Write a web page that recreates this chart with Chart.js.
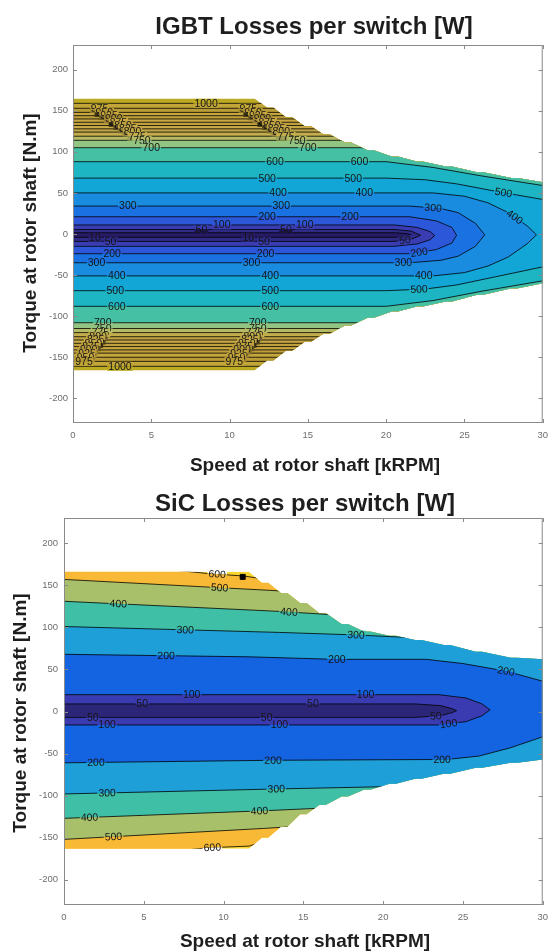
<!DOCTYPE html>
<html lang="en">
<head>
<meta charset="UTF-8">
<title>IGBT vs SiC losses per switch</title>
<style>
  html, body { margin: 0; padding: 0; background: #fff; }
  body { width: 555px; height: 951px; position: relative; overflow: hidden; }
  canvas { position: absolute; left: 0; }
  #igbt { top: 0; }
  #sic { top: 476px; }
</style>
</head>
<body>
<canvas id="igbt" width="555" height="476"></canvas>
<canvas id="sic" width="555" height="475"></canvas>
<script src="https://cdn.jsdelivr.net/npm/chart.js"></script>
<script>
const FONT = '"Liberation Sans", Arial, sans-serif';

const speedTicks = [0, 5, 10, 15, 20, 25, 30];
const torqueTicks = [-200, -150, -100, -50, 0, 50, 100, 150, 200];

// ---- IGBT: operating envelope (stepped torque limit vs speed) ----
const igbtEnvSpeed  = [0, 11.6, 12.4, 12.8, 13.6, 14.0, 14.8, 15.2, 16.0, 16.4, 17.4, 17.8, 18.8, 19.2, 20.4, 20.8, 22.0, 22.4, 23.8, 24.2, 25.8, 26.2, 28.0, 28.4, 30];
const igbtEnvTop    = [165, 165, 154, 154, 142, 142, 131, 131, 121, 121, 111, 111, 102, 102, 94, 94, 88, 88, 82, 82, 75, 75, 68, 68, 63];
const igbtEnvBottom = [-166, -166, -154, -154, -142, -142, -131, -131, -121, -121, -111, -111, -102, -102, -94, -94, -88, -88, -82, -82, -74, -74, -66, -66, -60];

// contour levels [W] and their branches as [speed, torque] points
const igbtLevels = [10, 50, 100, 200, 300, 400, 500, 600, 700, 750, 775, 800, 825, 850, 875, 900, 925, 950, 975, 1000];
const igbtUpper = [
  [[0, 1.5], [20.6, 1.5], [21.3, 0.5], [21.6, -1]],
  [[0, 5.5], [20.5, 5.5], [21.6, 3.5], [22.2, -1.5]],
  [[0, 11], [20.5, 11], [22, 8], [22.8, 3], [23.1, -2]],
  [[0, 21], [21.5, 21], [23.2, 16], [24.2, 8], [24.5, -1.5]],
  [[0, 34], [21.5, 34], [23.5, 31], [24.6, 26], [25.7, 13], [26.3, -1]],
  [[0, 50], [23, 50], [25, 46], [26.5, 38], [27.8, 26], [29, 10], [29.6, -1]],
  [[0, 68], [20, 68], [22.5, 66], [24.5, 61], [27, 52], [30, 42]],
  [[0, 88], [20, 88], [23, 81], [26, 71], [30, 59]],
  [[0, 105], [30, 105]],
  [[0, 114], [30, 114]],
  [[0, 119], [30, 119]],
  [[0, 124], [30, 124]],
  [[0, 128], [30, 128]],
  [[0, 132], [30, 132]],
  [[0, 136], [30, 136]],
  [[0, 140], [30, 140]],
  [[0, 144], [30, 144]],
  [[0, 148], [30, 148]],
  [[0, 153], [30, 153]],
  [[0, 159], [30, 159]]
];
const igbtLower = [
  [[0, -4], [20.6, -4], [21.3, -2.5], [21.6, -1]],
  [[0, -9], [20.5, -9], [21.6, -6.5], [22.2, -1.5]],
  [[0, -15], [20.5, -15], [22, -12], [22.8, -7], [23.1, -2]],
  [[0, -24], [21.5, -24], [23.2, -19], [24.2, -11], [24.5, -1.5]],
  [[0, -35], [21.5, -35], [23.5, -32], [24.6, -27], [25.7, -15], [26.3, -1]],
  [[0, -51], [23, -51], [25, -47], [26.5, -39], [27.8, -28], [29, -12], [29.6, -1]],
  [[0, -69], [20, -69], [22.5, -67], [24.5, -62], [27, -52], [30, -40]],
  [[0, -88], [20, -88], [23, -81], [26, -70], [30, -57]],
  [[0, -108], [30, -108]],
  [[0, -115], [30, -115]],
  [[0, -120], [30, -120]],
  [[0, -125], [30, -125]],
  [[0, -129], [30, -129]],
  [[0, -133], [30, -133]],
  [[0, -137], [30, -137]],
  [[0, -141], [30, -141]],
  [[0, -145], [30, -145]],
  [[0, -150], [30, -150]],
  [[0, -155], [30, -155]],
  [[0, -161], [30, -161]]
];
// band colours, lowest band first
const igbtColors = ['#271b66', '#2f2a86', '#3a3db2', '#2c57d8', '#1a72e2', '#1a8ce0', '#12a6d6', '#1db4c4',
  '#45c0a4', '#92c482', '#b5bb64', '#c4ae4c', '#bea444', '#c8aa46', '#bfa03e', '#c9a842', '#bd9e3a',
  '#c6a63e', '#ba9c36', '#c2a638', '#bcaa24'];
// contour labels: [level index, branch, speed]
const igbtLabels = [
  [19, 'u', 8.5],
  [18, 'u', 1.7], [17, 'u', 2.0], [16, 'u', 2.3], [15, 'u', 2.6], [14, 'u', 2.9], [13, 'u', 3.2],
  [12, 'u', 3.5], [11, 'u', 3.8], [10, 'u', 4.1], [9, 'u', 4.4], [8, 'u', 5.0],
  [18, 'u', 11.2], [17, 'u', 11.5], [16, 'u', 11.8], [15, 'u', 12.1], [14, 'u', 12.4], [13, 'u', 12.7],
  [12, 'u', 13.0], [11, 'u', 13.3], [10, 'u', 13.6], [9, 'u', 14.3], [8, 'u', 15.0],
  [7, 'u', 12.9], [7, 'u', 18.3], [6, 'u', 12.4], [6, 'u', 17.9], [6, 'u', 27.5],
  [5, 'u', 13.1], [5, 'u', 18.6], [5, 'u', 28.2], [4, 'u', 3.5], [4, 'u', 13.3], [4, 'u', 23.0],
  [3, 'u', 12.4], [3, 'u', 17.7], [2, 'u', 9.5], [2, 'u', 14.8], [1, 'u', 8.2], [1, 'u', 13.6],
  [0, 'l', 1.4], [1, 'l', 2.4], [0, 'l', 11.2], [1, 'l', 12.2], [1, 'l', 21.2],
  [3, 'l', 2.5], [3, 'l', 12.3], [3, 'l', 22.1], [4, 'l', 1.5], [4, 'l', 11.4], [4, 'l', 21.1],
  [5, 'l', 2.8], [5, 'l', 12.6], [5, 'l', 22.4], [6, 'l', 2.7], [6, 'l', 12.6], [6, 'l', 22.1],
  [7, 'l', 2.8], [7, 'l', 12.6], [8, 'l', 1.9], [8, 'l', 11.8],
  [9, 'l', 1.9], [10, 'l', 1.75], [11, 'l', 1.6], [12, 'l', 1.45], [13, 'l', 1.3], [14, 'l', 1.15],
  [15, 'l', 1.0], [16, 'l', 0.9], [17, 'l', 0.8], [18, 'l', 0.7],
  [9, 'l', 11.8], [10, 'l', 11.6], [11, 'l', 11.45], [12, 'l', 11.3], [13, 'l', 11.1], [14, 'l', 10.95],
  [15, 'l', 10.8], [16, 'l', 10.6], [17, 'l', 10.45], [18, 'l', 10.3],
  [19, 'l', 3.0]
];

// ---- SiC ----
const sicEnvSpeed  = [0, 11.6, 12.4, 12.8, 13.6, 14.0, 14.8, 15.2, 16.0, 16.4, 17.4, 17.8, 18.8, 19.2, 20.4, 20.8, 22.0, 22.4, 23.8, 24.2, 25.8, 26.2, 28.0, 28.4, 30];
const sicEnvTop    = [166, 166, 153, 153, 141, 141, 129, 129, 117, 117, 104, 104, 95, 95, 90, 90, 85, 85, 79, 79, 71, 71, 64, 64, 62];
const sicEnvBottom = [-163, -163, -150, -150, -137, -137, -122, -122, -111, -111, -101, -101, -93, -93, -86, -86, -80, -80, -74, -74, -67, -67, -61, -61, -57];
const sicLevels = [50, 100, 200, 300, 400, 500, 600];
const sicUpper = [
  [[0, 9], [22, 9], [23.6, 7], [24.3, 3.5], [24.6, 1]],
  [[0, 20], [23.5, 20], [25.2, 16], [26.2, 9], [26.7, 2]],
  [[0, 68], [11.6, 65], [17, 62], [22.7, 62], [25, 57], [27.7, 48], [30, 36]],
  [[0, 101], [13.5, 94], [18.3, 91], [21, 88.5], [30, 84]],
  [[0, 131], [13.5, 119], [16, 116], [30, 100]],
  [[0, 157], [12.9, 144], [30, 125]],
  [[0, 178], [7.5, 167], [9, 164], [11.3, 161], [13, 156], [30, 140]]
];
const sicLower = [
  [[0, -7], [22, -7], [23.6, -5], [24.3, -1.5], [24.6, 1]],
  [[0, -16], [23.5, -16], [25.2, -12], [26.2, -5], [26.7, 2]],
  [[0, -61], [13, -58], [24, -57], [26, -53], [28, -43], [30, -30]],
  [[0, -98], [13.5, -92], [21, -89], [30, -85]],
  [[0, -127], [12.5, -118], [16, -115], [30, -100]],
  [[0, -152], [12.5, -139], [30, -118]],
  [[0, -178], [7.5, -165], [9, -162], [11.6, -160], [13, -152], [30, -135]]
];
const sicColors = ['#2c2678', '#3a3bb0', '#1463e0', '#1f9fd8', '#3ebfa6', '#a8c06a', '#f7b936', '#f9d62e'];
const sicLabels = [
  [6, 'u', 9.6], [6, 'l', 9.3], [5, 'u', 9.75], [5, 'l', 3.1],
  [4, 'u', 3.4], [4, 'u', 14.1], [4, 'l', 1.6], [4, 'l', 12.25],
  [3, 'u', 7.6], [3, 'u', 18.3], [3, 'l', 2.7], [3, 'l', 13.3],
  [2, 'u', 6.4], [2, 'u', 17.1], [2, 'u', 27.7], [2, 'l', 2.0], [2, 'l', 13.1], [2, 'l', 23.7],
  [1, 'u', 8.0], [1, 'u', 18.9], [1, 'l', 2.7], [1, 'l', 13.5], [1, 'l', 24.1],
  [0, 'u', 4.9], [0, 'u', 15.6], [0, 'l', 1.8], [0, 'l', 12.7], [0, 'l', 23.3]
];
const sicMarker = [[11.2, 160]];

// ---------------------------------------------------------------
function pts(pairs) { return pairs.map(p => ({ x: p[0], y: p[1] })); }

function envelopeOf(speed, top, bottom) {
  const up = speed.map((s, i) => [s, top[i]]);
  const down = speed.map((s, i) => [s, bottom[i]]).reverse();
  return up.concat(down);
}

function buildDatasets(envelope, upper, lower, colors, marker) {
  const sets = [];
  if (marker) {
    sets.push({ data: pts(marker), showLine: false, pointStyle: 'rect', pointRadius: 3.5,
      pointBackgroundColor: '#000', pointBorderColor: '#000', borderColor: '#000' });
  }
  upper.concat(lower).forEach(branch => {
    sets.push({ data: pts(branch), borderColor: 'rgba(0,0,0,0.88)', borderWidth: 0.9,
      pointRadius: 0, fill: false, tension: 0 });
  });
  // filled regions, innermost on top
  upper.forEach((branch, i) => {
    sets.push({ data: pts(branch.concat(lower[i].slice().reverse())), fill: 'shape',
      backgroundColor: colors[i], borderColor: 'rgba(0,0,0,0)', borderWidth: 0, pointRadius: 0 });
  });
  sets.push({ data: pts(envelope), fill: 'shape', backgroundColor: colors[upper.length],
    borderColor: 'rgba(0,0,0,0)', borderWidth: 0, pointRadius: 0 });
  return sets;
}

function drawFrame(chart) {
  const { ctx, chartArea: a, scales: { x, y } } = chart;
  ctx.save();
  ctx.strokeStyle = '#8a8a8a';
  ctx.lineWidth = 1;
  ctx.strokeRect(a.left + 0.5, a.top + 0.5, a.right - a.left - 1, a.bottom - a.top - 1);
  ctx.beginPath();
  speedTicks.forEach(v => {
    const px = Math.round(x.getPixelForValue(v)) + 0.5;
    ctx.moveTo(px, a.bottom); ctx.lineTo(px, a.bottom - 4);
    ctx.moveTo(px, a.top); ctx.lineTo(px, a.top + 4);
  });
  torqueTicks.forEach(v => {
    const py = Math.round(y.getPixelForValue(v)) + 0.5;
    ctx.moveTo(a.left, py); ctx.lineTo(a.left + 4, py);
    ctx.moveTo(a.right, py); ctx.lineTo(a.right - 4, py);
  });
  ctx.stroke();
  ctx.restore();
}

function drawLabels(chart, labels, upper, lower, levels) {
  const { ctx, chartArea: a, scales: { x, y } } = chart;
  ctx.save();
  ctx.font = '10.5px ' + FONT;
  const items = labels.map(([idx, br, s]) => {
    const branch = br === 'u' ? upper[idx] : lower[idx];
    let k = 0;
    while (k < branch.length - 2 && s > branch[k + 1][0]) k++;
    const [s0, t0] = branch[k], [s1, t1] = branch[k + 1];
    const f = s1 === s0 ? 0 : (s - s0) / (s1 - s0);
    const t = t0 + f * (t1 - t0);
    const cx = x.getPixelForValue(s), cy = y.getPixelForValue(t);
    let ang = Math.atan2(y.getPixelForValue(t1) - y.getPixelForValue(t0),
                         x.getPixelForValue(s1) - x.getPixelForValue(s0));
    if (ang > Math.PI / 2) ang -= Math.PI;
    if (ang < -Math.PI / 2) ang += Math.PI;
    const text = String(levels[idx]);
    const w = ctx.measureText(text).width;
    const c = Math.cos(ang), sn = Math.sin(ang);
    let side = -w / 2 - 3;
    if (cx + side * c < a.left + 2) side = w / 2 + 3;
    // band colour just above / below the line, skipping black contour pixels;
    // transparent pixels lie outside the envelope, where the page is white
    const pick = dir => {
      let last = '#ffffff';
      for (const off of [2.5, 3.5, 1.5, 4.5, 5.5]) {
        const oy = dir * off;
        const px = Math.round(cx + side * c - oy * sn), py = Math.round(cy + side * sn + oy * c);
        const d = ctx.getImageData(px, py, 1, 1).data;
        if (d[3] < 128) return '#ffffff';
        last = 'rgb(' + d[0] + ',' + d[1] + ',' + d[2] + ')';
        if (d[0] + d[1] + d[2] > 90) return last;
      }
      return last;
    };
    return { cx, cy, ang, text, w, top: pick(-1), bot: pick(1) };
  });
  items.forEach(it => {
    ctx.save();
    ctx.translate(it.cx, it.cy);
    ctx.rotate(it.ang);
    ctx.fillStyle = it.top;
    ctx.fillRect(-it.w / 2 - 1, -4.5, it.w + 2, 4.5);
    ctx.fillStyle = it.bot;
    ctx.fillRect(-it.w / 2 - 1, 0, it.w + 2, 4.5);
    ctx.fillStyle = '#151515';
    ctx.textAlign = 'center';
    ctx.textBaseline = 'middle';
    ctx.fillText(it.text, 0, 0.5);
    ctx.restore();
  });
  ctx.restore();
}

function contourPlugin(envelope, upper, lower, levels, labels, titles) {
  return {
    id: 'contour',
    beforeDatasetsDraw(chart) {
      const { ctx, scales: { x, y } } = chart;
      ctx.save();
      ctx.beginPath();
      envelope.forEach((p, i) => {
        const px = x.getPixelForValue(p[0]), py = y.getPixelForValue(p[1]);
        if (i) ctx.lineTo(px, py); else ctx.moveTo(px, py);
      });
      ctx.closePath();
      ctx.clip();
    },
    afterDatasetsDraw(chart) {
      chart.ctx.restore();
    },
    afterDraw(chart) {
      const ctx = chart.ctx;
      drawFrame(chart);
      drawLabels(chart, labels, upper, lower, levels);
      ctx.save();
      ctx.fillStyle = '#1e1e1e';
      ctx.textAlign = 'center';
      ctx.textBaseline = 'alphabetic';
      ctx.font = 'bold 24px ' + FONT;
      ctx.fillText(titles.title, titles.titleX, titles.titleY);
      ctx.font = 'bold 19px ' + FONT;
      ctx.fillText('Speed at rotor shaft [kRPM]', titles.xTitleX, titles.xTitleY);
      ctx.translate(titles.yTitleX, titles.yTitleY);
      ctx.rotate(-Math.PI / 2);
      ctx.textBaseline = 'middle';
      ctx.fillText('Torque at rotor shaft [N.m]', 0, 0);
      ctx.restore();
    }
  };
}

function makeChart(id, datasets, plugin, box) {
  const tickFont = { size: 9.5, family: FONT };
  return new Chart(document.getElementById(id), {
    type: 'line',
    data: { datasets },
    options: {
      responsive: false,
      animation: false,
      devicePixelRatio: 1,
      events: [],
      layout: { padding: { top: box.top, right: box.right, left: 0, bottom: 0 } },
      plugins: { legend: { display: false }, tooltip: { enabled: false }, title: { display: false } },
      scales: {
        x: {
          type: 'linear', min: 0, max: 30,
          grid: { display: false, drawTicks: false }, border: { display: false },
          ticks: { autoSkip: false, maxRotation: 0, padding: 7, color: '#6e6e6e', font: tickFont },
          afterBuildTicks: s => { s.ticks = speedTicks.map(v => ({ value: v })); },
          afterFit: s => { s.height = box.xHeight; }
        },
        y: {
          type: 'linear', min: -230, max: 230,
          grid: { display: false, drawTicks: false }, border: { display: false },
          ticks: { autoSkip: false, padding: box.yPad, color: '#6e6e6e', font: tickFont },
          afterBuildTicks: s => { s.ticks = torqueTicks.map(v => ({ value: v })); },
          afterFit: s => { s.width = box.yWidth; }
        }
      }
    },
    plugins: [plugin]
  });
}

const igbtEnvelope = envelopeOf(igbtEnvSpeed, igbtEnvTop, igbtEnvBottom);
makeChart('igbt',
  buildDatasets(igbtEnvelope, igbtUpper, igbtLower, igbtColors, null),
  contourPlugin(igbtEnvelope, igbtUpper, igbtLower, igbtLevels, igbtLabels, {
    title: 'IGBT Losses per switch [W]', titleX: 314, titleY: 33.5,
    xTitleX: 315, xTitleY: 471, yTitleX: 31, yTitleY: 233
  }),
  { top: 45, right: 7, xHeight: 53, yWidth: 73, yPad: 5 });

const sicEnvelope = envelopeOf(sicEnvSpeed, sicEnvTop, sicEnvBottom);
makeChart('sic',
  buildDatasets(sicEnvelope, sicUpper, sicLower, sicColors, sicMarker),
  contourPlugin(sicEnvelope, sicUpper, sicLower, sicLevels, sicLabels, {
    title: 'SiC Losses per switch [W]', titleX: 305, titleY: 34.5,
    xTitleX: 305, xTitleY: 471, yTitleX: 21, yTitleY: 237
  }),
  { top: 42, right: 11, xHeight: 46, yWidth: 64, yPad: 6 });
</script>
</body>
</html>
